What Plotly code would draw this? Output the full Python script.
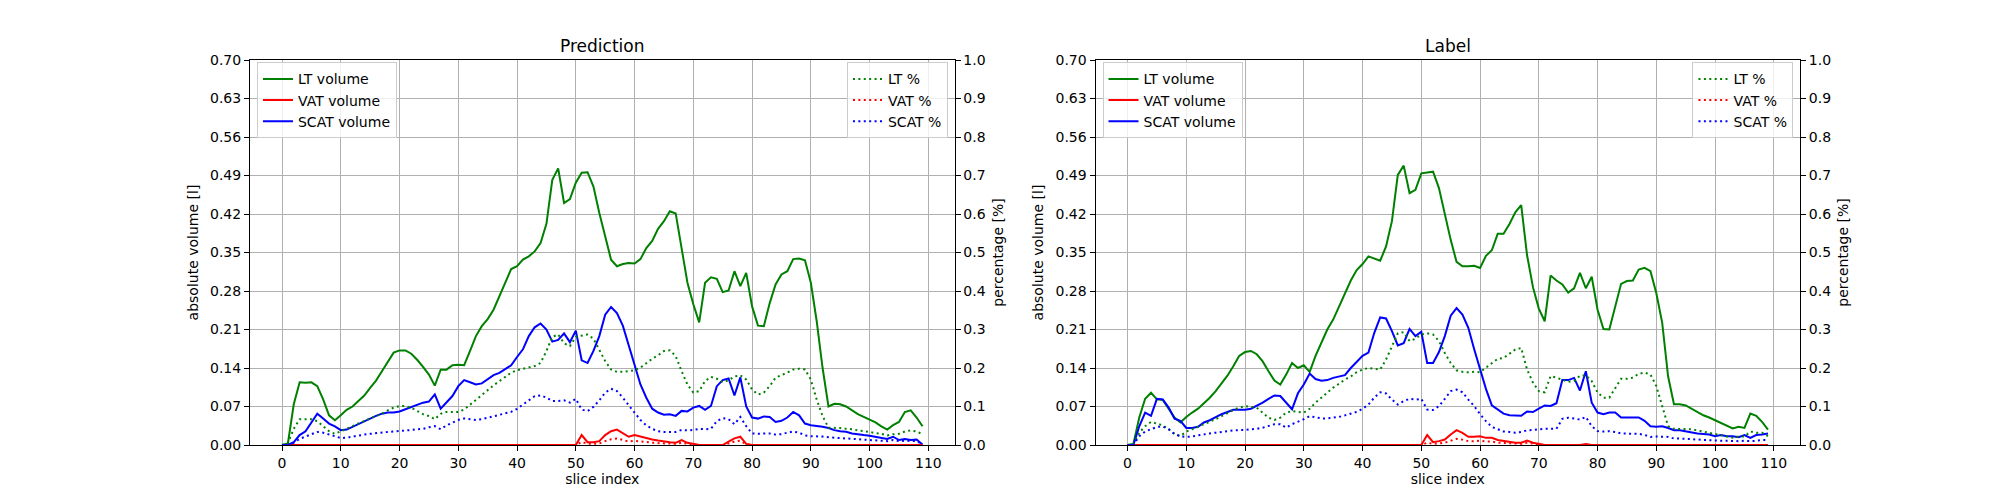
import plotly.graph_objects as go

slices = list(range(110))

pred_lt_vol = [
    0, 0.003, 0.074, 0.114, 0.113, 0.114, 0.107, 0.083, 0.054, 0.045,
    0.054, 0.064, 0.070, 0.080, 0.090, 0.104, 0.117, 0.134, 0.151, 0.168,
    0.172, 0.172, 0.166, 0.155, 0.142, 0.128, 0.108, 0.137, 0.137, 0.145,
    0.146, 0.145, 0.171, 0.198, 0.216, 0.229, 0.246, 0.270, 0.296, 0.320,
    0.325, 0.337, 0.343, 0.352, 0.367, 0.402, 0.482, 0.503, 0.440, 0.447,
    0.477, 0.495, 0.496, 0.470, 0.422, 0.379, 0.337, 0.325, 0.329, 0.331,
    0.330, 0.338, 0.358, 0.371, 0.393, 0.407, 0.425, 0.421, 0.358, 0.295,
    0.256, 0.223, 0.295, 0.305, 0.302, 0.278, 0.281, 0.316, 0.289, 0.313,
    0.252, 0.217, 0.216, 0.258, 0.292, 0.310, 0.316, 0.338, 0.339, 0.336,
    0.295, 0.225, 0.140, 0.070, 0.075, 0.074, 0.070, 0.063, 0.056, 0.051,
    0.046, 0.041, 0.034, 0.028, 0.036, 0.042, 0.060, 0.063, 0.050, 0.034,
]
pred_vat_vol = [
    0, 0, 0, 0, 0, 0, 0, 0, 0, 0,
    0, 0, 0, 0, 0, 0, 0, 0, 0, 0,
    0, 0, 0, 0, 0, 0, 0, 0, 0, 0,
    0, 0, 0, 0, 0, 0, 0, 0, 0, 0,
    0, 0, 0, 0, 0, 0, 0, 0, 0, 0,
    0, 0.018, 0.005, 0.005, 0.007, 0.018, 0.025, 0.028, 0.021, 0.015,
    0.018, 0.015, 0.013, 0.010, 0.008, 0.006, 0.005, 0.004, 0.009, 0.004,
    0.002, 0, 0, 0, 0, 0, 0.006, 0.012, 0.015, 0.002,
    0, 0, 0, 0, 0, 0, 0, 0, 0, 0,
    0, 0, 0, 0, 0, 0, 0, 0, 0, 0,
    0, 0, 0, 0, 0, 0, 0, 0, 0, 0,
]
pred_scat_vol = [
    0, 0, 0.005, 0.018, 0.025, 0.042, 0.057, 0.048, 0.039, 0.034,
    0.027, 0.028, 0.033, 0.039, 0.044, 0.048, 0.053, 0.057, 0.059, 0.059,
    0.061, 0.065, 0.069, 0.073, 0.077, 0.079, 0.092, 0.066, 0.077, 0.089,
    0.107, 0.118, 0.114, 0.110, 0.112, 0.119, 0.127, 0.131, 0.138, 0.145,
    0.160, 0.174, 0.198, 0.214, 0.221, 0.210, 0.188, 0.191, 0.203, 0.187,
    0.208, 0.154, 0.149, 0.171, 0.198, 0.237, 0.251, 0.240, 0.217, 0.180,
    0.143, 0.110, 0.086, 0.066, 0.059, 0.055, 0.056, 0.053, 0.062, 0.061,
    0.068, 0.071, 0.064, 0.071, 0.107, 0.118, 0.121, 0.090, 0.123, 0.070,
    0.050, 0.048, 0.052, 0.051, 0.042, 0.044, 0.050, 0.060, 0.054, 0.039,
    0.036, 0.035, 0.033, 0.031, 0.027, 0.025, 0.024, 0.021, 0.019, 0.018,
    0.017, 0.015, 0.013, 0.011, 0.015, 0.009, 0.011, 0.009, 0.010, 0.001,
]
pred_lt_pct = [
    0, 0.005, 0.042, 0.067, 0.067, 0.067, 0.062, 0.049, 0.036, 0.029,
    0.036, 0.041, 0.049, 0.056, 0.062, 0.069, 0.075, 0.081, 0.090, 0.097,
    0.101, 0.101, 0.097, 0.088, 0.080, 0.075, 0.067, 0.081, 0.086, 0.086,
    0.086, 0.092, 0.105, 0.118, 0.131, 0.143, 0.155, 0.166, 0.178, 0.188,
    0.194, 0.198, 0.201, 0.205, 0.213, 0.244, 0.281, 0.287, 0.264, 0.257,
    0.281, 0.284, 0.287, 0.276, 0.248, 0.218, 0.196, 0.190, 0.190, 0.192,
    0.194, 0.201, 0.213, 0.224, 0.233, 0.244, 0.246, 0.231, 0.192, 0.157,
    0.136, 0.140, 0.166, 0.177, 0.172, 0.163, 0.168, 0.178, 0.181, 0.170,
    0.144, 0.131, 0.136, 0.153, 0.175, 0.181, 0.188, 0.196, 0.198, 0.196,
    0.170, 0.118, 0.075, 0.045, 0.045, 0.044, 0.042, 0.041, 0.038, 0.036,
    0.034, 0.032, 0.029, 0.025, 0.028, 0.029, 0.035, 0.038, 0.035, 0.028,
]
pred_vat_pct = [
    0, 0, 0, 0, 0, 0, 0, 0, 0, 0,
    0, 0, 0, 0, 0, 0, 0, 0, 0, 0,
    0, 0, 0, 0, 0, 0, 0, 0, 0, 0,
    0, 0, 0, 0, 0, 0, 0, 0, 0, 0,
    0, 0, 0, 0, 0, 0, 0, 0, 0, 0,
    0, 0.008, 0.003, 0.003, 0.004, 0.010, 0.015, 0.017, 0.012, 0.009,
    0.011, 0.009, 0.008, 0.006, 0.005, 0.004, 0.003, 0.003, 0.006, 0.003,
    0.001, 0, 0, 0, 0, 0, 0.004, 0.009, 0.011, 0.002,
    0, 0, 0, 0, 0, 0, 0, 0, 0, 0,
    0, 0, 0, 0, 0, 0, 0, 0, 0, 0,
    0, 0, 0, 0, 0, 0, 0, 0, 0, 0,
]
pred_scat_pct = [
    0, 0, 0.006, 0.016, 0.022, 0.028, 0.034, 0.032, 0.028, 0.023,
    0.018, 0.019, 0.022, 0.024, 0.027, 0.029, 0.031, 0.033, 0.034, 0.035,
    0.036, 0.037, 0.039, 0.041, 0.042, 0.046, 0.049, 0.041, 0.051, 0.058,
    0.065, 0.069, 0.067, 0.065, 0.067, 0.071, 0.075, 0.080, 0.082, 0.086,
    0.094, 0.105, 0.118, 0.127, 0.129, 0.123, 0.114, 0.114, 0.116, 0.110,
    0.120, 0.092, 0.088, 0.099, 0.116, 0.136, 0.146, 0.140, 0.123, 0.105,
    0.084, 0.065, 0.051, 0.042, 0.036, 0.034, 0.034, 0.034, 0.039, 0.038,
    0.039, 0.042, 0.041, 0.042, 0.062, 0.070, 0.067, 0.054, 0.073, 0.049,
    0.030, 0.029, 0.030, 0.030, 0.027, 0.028, 0.032, 0.035, 0.032, 0.025,
    0.023, 0.023, 0.022, 0.020, 0.019, 0.018, 0.017, 0.016, 0.015, 0.014,
    0.013, 0.012, 0.011, 0.010, 0.013, 0.010, 0.011, 0.010, 0.010, 0.002,
]

label_lt_vol = [
    0, 0.002, 0.050, 0.084, 0.095, 0.083, 0.082, 0.066, 0.050, 0.041,
    0.051, 0.059, 0.066, 0.076, 0.086, 0.098, 0.111, 0.126, 0.143, 0.162,
    0.169, 0.171, 0.165, 0.152, 0.134, 0.117, 0.110, 0.128, 0.149, 0.140,
    0.145, 0.133, 0.162, 0.186, 0.210, 0.228, 0.252, 0.278, 0.299, 0.318,
    0.329, 0.343, 0.339, 0.335, 0.361, 0.407, 0.491, 0.508, 0.458, 0.464,
    0.494, 0.496, 0.497, 0.467, 0.419, 0.373, 0.333, 0.325, 0.325, 0.326,
    0.322, 0.344, 0.354, 0.384, 0.384, 0.402, 0.423, 0.436, 0.345, 0.287,
    0.248, 0.225, 0.308, 0.299, 0.292, 0.277, 0.285, 0.313, 0.285, 0.306,
    0.246, 0.211, 0.210, 0.252, 0.293, 0.298, 0.299, 0.319, 0.322, 0.316,
    0.276, 0.222, 0.125, 0.074, 0.074, 0.072, 0.066, 0.060, 0.054, 0.050,
    0.045, 0.041, 0.036, 0.030, 0.033, 0.031, 0.057, 0.053, 0.042, 0.028,
]
label_vat_vol = [
    0, 0, 0, 0, 0, 0, 0, 0, 0, 0,
    0, 0, 0, 0, 0, 0, 0, 0, 0, 0,
    0, 0, 0, 0, 0, 0, 0, 0, 0, 0,
    0, 0, 0, 0, 0, 0, 0, 0, 0, 0,
    0, 0, 0, 0, 0, 0, 0, 0, 0, 0,
    0, 0.018, 0.005, 0.007, 0.010, 0.019, 0.027, 0.022, 0.015, 0.015,
    0.016, 0.013, 0.013, 0.009, 0.007, 0.005, 0.004, 0.004, 0.008, 0.004,
    0.002, 0, 0, 0, 0, 0, 0, 0, 0.002, 0,
    0, 0, 0, 0, 0, 0, 0, 0, 0, 0,
    0, 0, 0, 0, 0, 0, 0, 0, 0, 0,
    0, 0, 0, 0, 0, 0, 0, 0, 0, 0,
]
label_scat_vol = [
    0, 0, 0.034, 0.059, 0.053, 0.084, 0.083, 0.068, 0.048, 0.044,
    0.031, 0.031, 0.033, 0.041, 0.045, 0.051, 0.056, 0.060, 0.064, 0.064,
    0.064, 0.066, 0.071, 0.077, 0.084, 0.090, 0.089, 0.077, 0.065, 0.094,
    0.110, 0.130, 0.120, 0.117, 0.118, 0.122, 0.125, 0.127, 0.140, 0.151,
    0.162, 0.168, 0.204, 0.232, 0.230, 0.207, 0.181, 0.185, 0.211, 0.198,
    0.206, 0.149, 0.149, 0.169, 0.198, 0.235, 0.249, 0.237, 0.213, 0.174,
    0.137, 0.102, 0.072, 0.065, 0.057, 0.054, 0.054, 0.053, 0.061, 0.060,
    0.066, 0.072, 0.071, 0.076, 0.118, 0.118, 0.122, 0.099, 0.134, 0.077,
    0.059, 0.056, 0.059, 0.059, 0.050, 0.050, 0.051, 0.050, 0.044, 0.034,
    0.033, 0.034, 0.031, 0.027, 0.027, 0.025, 0.022, 0.021, 0.020, 0.019,
    0.016, 0.018, 0.016, 0.016, 0.014, 0.018, 0.013, 0.018, 0.019, 0.021,
]
label_lt_pct = [
    0, 0.003, 0.032, 0.049, 0.060, 0.055, 0.051, 0.041, 0.029, 0.023,
    0.035, 0.041, 0.047, 0.054, 0.060, 0.067, 0.075, 0.084, 0.091, 0.097,
    0.101, 0.099, 0.097, 0.084, 0.071, 0.065, 0.071, 0.084, 0.088, 0.086,
    0.084, 0.094, 0.110, 0.123, 0.136, 0.149, 0.159, 0.170, 0.178, 0.189,
    0.196, 0.200, 0.198, 0.196, 0.222, 0.257, 0.290, 0.293, 0.270, 0.276,
    0.287, 0.290, 0.287, 0.270, 0.239, 0.213, 0.194, 0.190, 0.189, 0.190,
    0.189, 0.201, 0.213, 0.224, 0.226, 0.238, 0.248, 0.252, 0.196, 0.162,
    0.140, 0.137, 0.179, 0.175, 0.170, 0.164, 0.166, 0.180, 0.181, 0.166,
    0.136, 0.123, 0.123, 0.149, 0.172, 0.172, 0.175, 0.185, 0.188, 0.183,
    0.153, 0.101, 0.049, 0.042, 0.042, 0.042, 0.041, 0.038, 0.035, 0.032,
    0.029, 0.026, 0.023, 0.019, 0.022, 0.022, 0.035, 0.032, 0.032, 0.023,
]
label_vat_pct = [
    0, 0, 0, 0, 0, 0, 0, 0, 0, 0,
    0, 0, 0, 0, 0, 0, 0, 0, 0, 0,
    0, 0, 0, 0, 0, 0, 0, 0, 0, 0,
    0, 0, 0, 0, 0, 0, 0, 0, 0, 0,
    0, 0, 0, 0, 0, 0, 0, 0, 0, 0,
    0, 0.006, 0.003, 0.004, 0.006, 0.011, 0.016, 0.014, 0.010, 0.010,
    0.011, 0.009, 0.009, 0.006, 0.005, 0.004, 0.003, 0.003, 0.006, 0.003,
    0.001, 0, 0, 0, 0, 0, 0, 0, 0, 0,
    0, 0, 0, 0, 0, 0, 0, 0, 0, 0,
    0, 0, 0, 0, 0, 0, 0, 0, 0, 0,
    0, 0, 0, 0, 0, 0, 0, 0, 0, 0,
]
label_scat_pct = [
    0, 0, 0.023, 0.035, 0.041, 0.047, 0.048, 0.041, 0.028, 0.023,
    0.021, 0.022, 0.025, 0.028, 0.030, 0.032, 0.035, 0.036, 0.038, 0.038,
    0.039, 0.041, 0.042, 0.045, 0.049, 0.054, 0.054, 0.045, 0.054, 0.060,
    0.067, 0.075, 0.071, 0.069, 0.069, 0.071, 0.073, 0.077, 0.082, 0.086,
    0.094, 0.105, 0.123, 0.137, 0.134, 0.118, 0.105, 0.114, 0.120, 0.118,
    0.120, 0.092, 0.091, 0.101, 0.120, 0.140, 0.144, 0.137, 0.118, 0.101,
    0.080, 0.062, 0.047, 0.041, 0.035, 0.034, 0.032, 0.034, 0.038, 0.039,
    0.041, 0.042, 0.042, 0.042, 0.068, 0.071, 0.069, 0.066, 0.073, 0.049,
    0.036, 0.035, 0.036, 0.034, 0.030, 0.030, 0.030, 0.029, 0.026, 0.021,
    0.022, 0.022, 0.021, 0.017, 0.017, 0.016, 0.015, 0.014, 0.013, 0.013,
    0.011, 0.011, 0.011, 0.010, 0.010, 0.011, 0.010, 0.011, 0.013, 0.013,
]

panel_titles = ["Prediction", "Label"]
vol_names = ["LT volume", "VAT volume", "SCAT volume"]
pct_names = ["LT %", "VAT %", "SCAT %"]
colors = ["green", "red", "blue"]
font = "DejaVu Sans"

panels = [
    ([pred_lt_vol, pred_vat_vol, pred_scat_vol], [pred_lt_pct, pred_vat_pct, pred_scat_pct]),
    ([label_lt_vol, label_vat_vol, label_scat_vol], [label_lt_pct, label_vat_pct, label_scat_pct]),
]

fig = go.Figure()

for i, (vols, pcts) in enumerate(panels):
    xa = "x" if i == 0 else "x2"
    ya_vol = "y" if i == 0 else "y3"
    ya_pct = "y2" if i == 0 else "y4"
    leg_vol = "legend" if i == 0 else "legend3"
    leg_pct = "legend2" if i == 0 else "legend4"
    for name, col, vals in zip(vol_names, colors, vols):
        fig.add_trace(go.Scatter(x=slices, y=vals, mode="lines", name=name,
                                 line=dict(color=col, width=2),
                                 xaxis=xa, yaxis=ya_vol, legend=leg_vol))
    for name, col, vals in zip(pct_names, colors, pcts):
        fig.add_trace(go.Scatter(x=slices, y=vals, mode="lines", name=name,
                                 line=dict(color=col, width=2, dash="2px,3.4px"),
                                 xaxis=xa, yaxis=ya_pct, legend=leg_pct))

tick_font = dict(family=font, size=14, color="black")
grid = "#b0b0b0"

xaxis_style = dict(range=[-5.45, 114.45], tickmode="linear", tick0=0, dtick=10,
                   showgrid=True, gridcolor=grid, gridwidth=1, zeroline=False,
                   showline=True, linecolor="black", linewidth=1, mirror=True,
                   ticks="outside", ticklen=5, tickcolor="black", tickfont=tick_font,
                   title=dict(text="slice index", font=tick_font, standoff=4))
yvol_style = dict(range=[0, 0.7], tickmode="linear", tick0=0, dtick=0.07, tickformat=".2f",
                  showgrid=True, gridcolor=grid, gridwidth=1, zeroline=False,
                  showline=True, linecolor="black", linewidth=1,
                  ticks="outside", ticklen=5, tickcolor="black", tickfont=tick_font,
                  title=dict(text="absolute volume [l]", font=tick_font, standoff=8))
ypct_style = dict(range=[0, 1], tickmode="linear", tick0=0, dtick=0.1, tickformat=".1f",
                  showgrid=False, zeroline=False, side="right",
                  showline=True, linecolor="black", linewidth=1,
                  ticks="outside", ticklen=5, tickcolor="black", tickfont=tick_font,
                  title=dict(text="percentage [%]", font=tick_font, standoff=8))

d1 = [0, 704.5 / 1550]
d2 = [845.5 / 1550, 1]

legend_style = dict(bgcolor="rgba(255,255,255,0.8)", bordercolor="#cccccc", borderwidth=1,
                    font=dict(family=font, size=14, color="black"), yanchor="top", y=0.994,
                    tracegroupgap=0, itemwidth=30)

# the page body adds 8px on the top and left, so the margins take it back
fig.update_layout(
    width=2000, height=500,
    paper_bgcolor="white", plot_bgcolor="white",
    margin=dict(l=242, r=208, t=52, b=63),
    font=dict(family=font, size=14, color="black"),
    showlegend=True,
    xaxis=dict(domain=d1, anchor="y", **xaxis_style),
    xaxis2=dict(domain=d2, anchor="y3", **xaxis_style),
    yaxis=dict(anchor="x", **yvol_style),
    yaxis2=dict(anchor="x", overlaying="y", **ypct_style),
    yaxis3=dict(anchor="x2", **yvol_style),
    yaxis4=dict(anchor="x2", overlaying="y3", **ypct_style),
    legend=dict(x=0.0045, xanchor="left", **legend_style),
    legend2=dict(x=0.4503, xanchor="right", **legend_style),
    legend3=dict(x=0.55, xanchor="left", **legend_style),
    legend4=dict(x=0.9958, xanchor="right", **legend_style),
)

for title, dom in zip(panel_titles, [d1, d2]):
    fig.add_annotation(text=title, x=(dom[0] + dom[1]) / 2, y=1, xref="paper", yref="paper",
                       xanchor="center", yanchor="bottom", yshift=2, showarrow=False,
                       font=dict(family=font, size=17, color="black"))

fig.write_html("out.html")
